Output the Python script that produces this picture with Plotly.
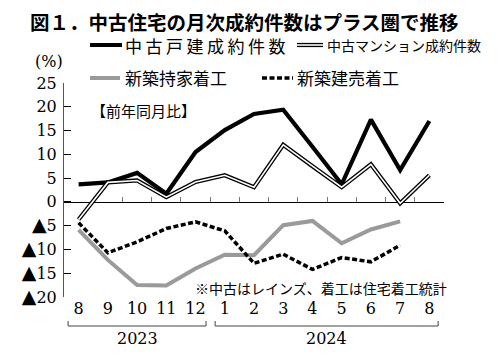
import plotly.graph_objects as go

# ---------------- data ----------------
categories = ["2023-08", "2023-09", "2023-10", "2023-11", "2023-12",
              "2024-01", "2024-02", "2024-03", "2024-04", "2024-05",
              "2024-06", "2024-07", "2024-08"]
month_labels = ["8", "9", "10", "11", "12", "1", "2", "3", "4", "5", "6", "7", "8"]
years = ["2023", "2024"]
year_first_idx = [0, 5]
year_last_idx = [4, 12]

used_kodate = [3.7, 4.1, 6.1, 1.7, 10.5, 15.1, 18.5, 19.4, 11.6, 3.7, 17.3, 6.7, 17.0]
used_mansion = [-3.7, 4.1, 4.5, 1.0, 4.2, 5.6, 3.1, 12.0, 7.5, 3.1, 7.9, -0.3, 5.6]
new_mochiie = [-5.9, -12.2, -17.5, -17.6, -14.0, -11.1, -11.2, -4.9, -4.0, -8.7, -5.8, -4.1, None]
new_tateuri = [-4.4, -10.7, -8.4, -5.6, -4.2, -6.1, -12.9, -11.0, -14.2, -11.7, -12.6, -9.1, None]

y_tickvals = [-20, -15, -10, -5, 0, 5, 10, 15, 20, 25]
y_ticktext = ["▲20", "▲15", "▲10", "▲5", "0", "5", "10", "15", "20", "25"]

series_names = ["中古戸建成約件数", "中古マンション成約件数", "新築持家着工", "新築建売着工"]
title_text = "図１．中古住宅の月次成約件数はプラス圏で推移"
note_text = "※中古はレインズ、着工は住宅着工統計"
sub_text = "【前年同月比】"
unit_text = "(%)"

# ---------------- layout geometry ----------------
WIDTH, HEIGHT = 498, 357
L, R, T, B = 64, 54, 83, 60
PW = WIDTH - L - R
PH = HEIGHT - T - B

def pxx(px):
    return (px - L) / PW

def pxy(py):
    return (T + PH - py) / PH

JP = "Noto Sans CJK JP"
NUM = "DejaVu Serif"
GRAY = "#9a9a9a"
DASH = "5px,2.5px"

def tri_label(t):
    if t.startswith("▲"):
        return '<span style="font-size:19px">▲</span>' + t[1:]
    return t

fig = go.Figure()

# new housing starts (bottom layer)
fig.add_trace(go.Scatter(x=categories, y=new_mochiie, mode="lines",
                         line=dict(color=GRAY, width=4), name=series_names[2],
                         showlegend=False, xaxis="x", yaxis="y"))
fig.add_trace(go.Scatter(x=categories, y=new_tateuri, mode="lines",
                         line=dict(color="black", width=3.5, dash=DASH), name=series_names[3],
                         showlegend=False, xaxis="x", yaxis="y"))
# used housing (on overlay axis that also draws the zero line)
fig.add_trace(go.Scatter(x=categories, y=used_kodate, mode="lines",
                         line=dict(color="black", width=4.2), name=series_names[0],
                         showlegend=False, xaxis="x2", yaxis="y"))
fig.add_trace(go.Scatter(x=categories, y=used_mansion, mode="lines",
                         line=dict(color="black", width=4.2), name=series_names[1],
                         showlegend=False, xaxis="x2", yaxis="y"))
fig.add_trace(go.Scatter(x=categories, y=used_mansion, mode="lines",
                         line=dict(color="white", width=1.6), name=series_names[1],
                         showlegend=False, hoverinfo="skip", xaxis="x2", yaxis="y"))

shapes = []
annotations = []

# year brackets
for yr, i0, i1 in zip(years, year_first_idx, year_last_idx):
    x0 = i0 - 0.5 + (0.14 if i0 == 0 else 0.17)
    x1 = i1 + 0.5 - (0.14 if i1 < 12 else 0.2)
    y_top, y_bot = pxy(321), pxy(326)
    shapes.append(dict(type="path", xref="x", yref="paper",
                       path=f"M {x0},{y_top} L {x0},{y_bot} L {x1},{y_bot} L {x1},{y_top}",
                       line=dict(color="#444", width=1)))
    annotations.append(dict(text=yr, x=(x0 + x1) / 2, xref="x", y=pxy(338), yref="paper",
                            showarrow=False, font=dict(family=NUM, size=16, color="black"),
                            xanchor="center", yanchor="middle"))

# manual legend
def leg_line(x0, x1, y, **line):
    shapes.append(dict(type="line", xref="paper", yref="paper",
                       x0=pxx(x0), x1=pxx(x1), y0=pxy(y), y1=pxy(y), line=line))

def leg_text(x, y, text, size=17):
    annotations.append(dict(text=text, x=pxx(x), y=pxy(y), xref="paper", yref="paper",
                            showarrow=False, xanchor="left", yanchor="middle",
                            font=dict(family=JP, size=size, color="black")))

row1, row2 = 45, 78
leg_line(90, 122, row1, color="black", width=4)
leg_text(123, row1, '<span style="letter-spacing:3.5px">' + series_names[0] + '</span>')
leg_line(297, 323, row1, color="black", width=4.2)
leg_line(297, 323, row1, color="white", width=1.6)
leg_text(325, row1, series_names[1], size=14)
leg_line(90, 120, row2, color=GRAY, width=4)
leg_text(123, row2, series_names[2])
leg_line(262, 293, row2, color="black", width=3.5, dash=DASH)
leg_text(295, row2, series_names[3])

# title, unit, sub label, note
annotations.append(dict(text="<b>" + title_text + "</b>", x=pxx(28), y=pxy(21),
                        xref="paper", yref="paper", showarrow=False,
                        xanchor="left", yanchor="middle",
                        font=dict(family=JP, size=19.5, color="black")))
annotations.append(dict(text=unit_text, x=pxx(49), y=pxy(62), xref="paper", yref="paper",
                        showarrow=False, xanchor="center", yanchor="middle",
                        font=dict(family=NUM, size=16, color="black")))
annotations.append(dict(text=sub_text, x=pxx(89), y=pxy(110), xref="paper", yref="paper",
                        showarrow=False, xanchor="left", yanchor="middle",
                        font=dict(family=JP, size=15, color="black")))
annotations.append(dict(text=note_text, x=pxx(449), y=pxy(288), xref="paper", yref="paper",
                        showarrow=False, xanchor="right", yanchor="middle",
                        font=dict(family=JP, size=14, color="black")))

fig.update_layout(
    width=WIDTH, height=HEIGHT,
    margin=dict(l=L, r=R, t=T, b=B, pad=0),
    paper_bgcolor="white", plot_bgcolor="white",
    showlegend=False,
    xaxis=dict(type="category", range=[-0.5, 12.5], showline=False, showgrid=False,
               zeroline=False, ticks="", tickmode="array", tickvals=categories,
               ticktext=month_labels, tickfont=dict(family=NUM, size=16, color="black"),
               ticklabelstandoff=0),
    xaxis2=dict(type="category", range=[-0.5, 12.5], overlaying="x", anchor="free",
                position=20 / 45, side="bottom", showline=True, linecolor="black",
                linewidth=1.3, showgrid=False, zeroline=False, ticks="inside",
                tickson="boundaries", ticklen=5, tickcolor="#777", tickwidth=1,
                showticklabels=False, layer="below traces"),
    yaxis=dict(range=[-20, 25], showline=True, linecolor="#555", linewidth=1,
               showgrid=False, zeroline=False, ticks="inside", ticklen=7,
               tickcolor="black", tickwidth=1, tickmode="array", tickvals=y_tickvals,
               ticktext=[tri_label(t) for t in y_ticktext],
               tickfont=dict(family=NUM, size=16, color="black"),
               ticklabelstandoff=3),
    shapes=shapes,
    annotations=annotations,
)

fig.write_html("out.html", config={"displayModeBar": False},
               post_script="document.body.style.margin='0';document.body.style.overflow='hidden';")
